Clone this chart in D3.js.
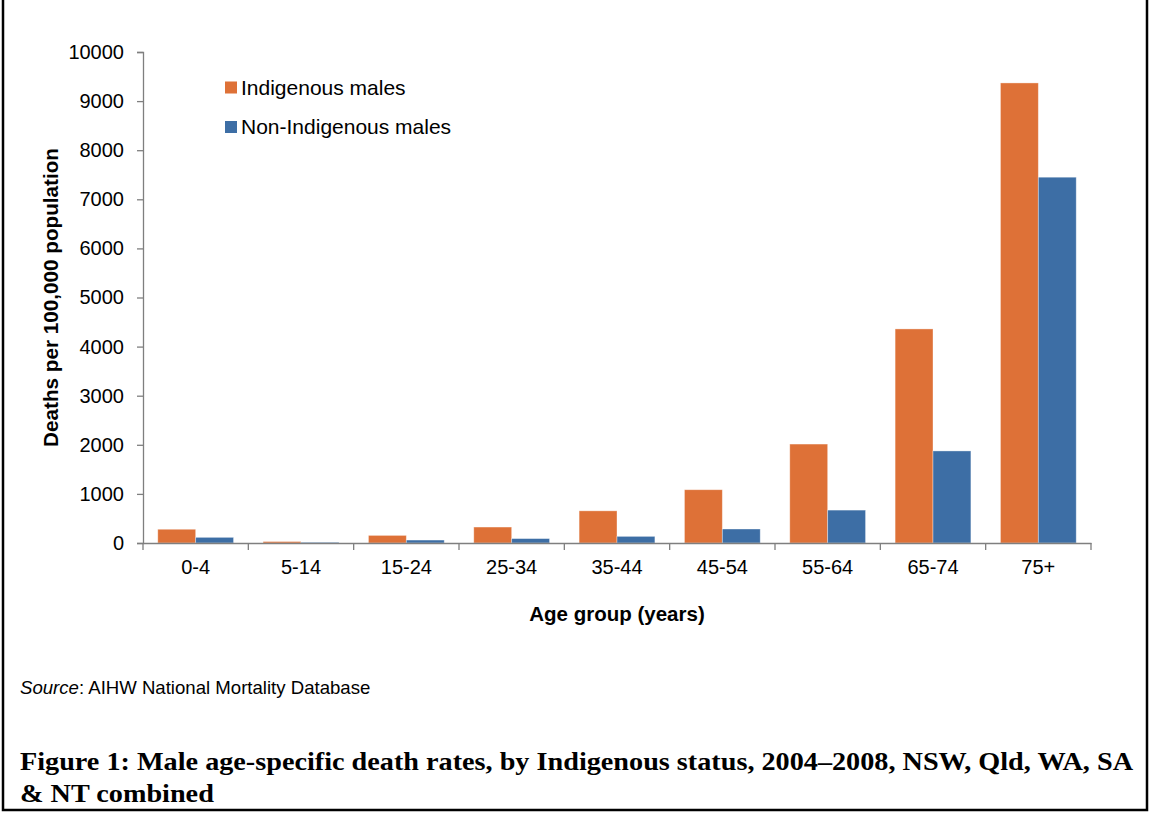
<!DOCTYPE html>
<html>
<head>
<meta charset="utf-8">
<script src="https://cdn.jsdelivr.net/npm/d3@7"></script>
<style>
  html, body { margin: 0; padding: 0; background: #fff; }
  svg { display: block; }
  text { font-family: "Liberation Sans", Arial, sans-serif; fill: #000; }
</style>
</head>
<body>
<svg id="chart" width="1150" height="813"></svg>
<script>
// Age groups and death rates per 100,000 males
const ageGroups = ["0-4", "5-14", "15-24", "25-34", "35-44", "45-54", "55-64", "65-74", "75+"];
const seriesNames = ["Indigenous males", "Non-Indigenous males"];
const indigenous = [280, 30, 155, 325, 655, 1085, 2015, 4360, 9370];
const nonIndigenous = [115, 15, 60, 90, 135, 285, 670, 1875, 7450];
const yTicks = [0, 1000, 2000, 3000, 4000, 5000, 6000, 7000, 8000, 9000, 10000];
const seriesColors = ["#DE7137", "#3D6EA5"];

const svg = d3.select("#chart");
svg.append("rect").attr("width", 1150).attr("height", 813).attr("fill", "#fff");

// Frame around the figure (open at the top)
svg.append("path")
  .attr("d", "M3,0 V810 H1147 V0")
  .attr("fill", "none")
  .attr("stroke", "#000")
  .attr("stroke-width", 2.5);

const plot = { left: 143, right: 1091, top: 52, bottom: 543 };

const x = d3.scaleBand().domain(ageGroups).range([plot.left, plot.right]).padding(0);
const xs = d3.scaleBand().domain(seriesNames).range([0, x.bandwidth()])
  .paddingInner(0).paddingOuter(0.39);
const y = d3.scaleLinear().domain([0, 10000]).range([plot.bottom, plot.top]);

const rows = ageGroups.map((g, i) => ({ group: g, values: [indigenous[i], nonIndigenous[i]] }));

// Bars
const groups = svg.append("g").selectAll("g")
  .data(rows).join("g")
  .attr("transform", d => `translate(${x(d.group)},0)`);

groups.selectAll("rect")
  .data(d => d.values.map((v, k) => ({ name: seriesNames[k], value: v, k })))
  .join("rect")
  .attr("x", d => xs(d.name))
  .attr("y", d => y(d.value))
  .attr("width", xs.bandwidth())
  .attr("height", d => y(0) - y(d.value))
  .attr("fill", d => seriesColors[d.k])
  .attr("stroke", "rgba(255,255,255,0.45)")
  .attr("stroke-width", 0.8);

const axisColor = "#7f7f7f";

// Y axis
const yAxis = svg.append("g")
  .attr("transform", `translate(${plot.left},0)`)
  .call(d3.axisLeft(y).tickValues(yTicks).tickFormat(d3.format("d")).tickSize(6).tickPadding(13));
yAxis.select(".domain").attr("stroke", axisColor).attr("stroke-width", 1.3);
yAxis.selectAll(".tick line").attr("stroke", axisColor).attr("stroke-width", 1.3);
yAxis.selectAll(".tick text")
  .attr("font-size", "20px")
  .attr("font-family", "'Liberation Sans', Arial, sans-serif")
  .attr("fill", "#000");

// X axis: labels centred in each band, ticks on the band boundaries
const xAxis = svg.append("g")
  .attr("transform", `translate(0,${plot.bottom})`)
  .call(d3.axisBottom(x).tickSize(0).tickPadding(17).tickSizeOuter(0));
xAxis.select(".domain").attr("stroke", axisColor).attr("stroke-width", 1.3);
xAxis.selectAll(".tick text")
  .attr("font-size", "20px")
  .attr("font-family", "'Liberation Sans', Arial, sans-serif")
  .attr("fill", "#000");

const boundaries = ageGroups.map(g => x(g)).concat([x(ageGroups[ageGroups.length - 1]) + x.bandwidth()]);
xAxis.selectAll("line.bound")
  .data(boundaries).join("line")
  .attr("class", "bound")
  .attr("x1", d => d).attr("x2", d => d)
  .attr("y1", 0).attr("y2", 7)
  .attr("stroke", axisColor).attr("stroke-width", 1.3);

// Axis titles
svg.append("text")
  .attr("x", (plot.left + plot.right) / 2)
  .attr("y", 621)
  .attr("text-anchor", "middle")
  .attr("font-size", "20.5px")
  .attr("font-weight", "bold")
  .text("Age group (years)");

svg.append("text")
  .attr("transform", `translate(58,${(plot.top + plot.bottom) / 2}) rotate(-90)`)
  .attr("text-anchor", "middle")
  .attr("font-size", "20.7px")
  .attr("font-weight", "bold")
  .text("Deaths per 100,000 population");

// Legend
const legend = svg.append("g");
seriesNames.forEach((name, k) => {
  const cy = 87.5 + k * 39.5;
  legend.append("rect")
    .attr("x", 225).attr("y", cy - 6)
    .attr("width", 12).attr("height", 12)
    .attr("fill", seriesColors[k]);
  legend.append("text")
    .attr("x", 241).attr("y", cy + 7)
    .attr("font-size", "21px")
    .text(name);
});

// Source note
const src = svg.append("text")
  .attr("x", 20).attr("y", 694)
  .attr("font-size", "18.6px");
src.append("tspan").attr("font-style", "italic").text("Source");
src.append("tspan").text(": AIHW National Mortality Database");

// Figure caption
const cap = svg.append("g")
  .attr("font-family", "'Palatino Linotype', 'Book Antiqua', 'Liberation Serif', serif")
  .attr("font-weight", "bold")
  .attr("font-size", "25px");
const line1 = cap.append("text").attr("x", 20).attr("y", 770)
  .style("font-family", "inherit")
  .text("Figure 1: Male age-specific death rates, by Indigenous status, 2004\u20132008, NSW, Qld, WA, SA");
const line2 = cap.append("text").attr("x", 20).attr("y", 802)
  .style("font-family", "inherit")
  .text("& NT combined");
const natural = line1.node().getComputedTextLength();
const ratio = 1113 / natural;
line1.attr("textLength", 1113).attr("lengthAdjust", "spacingAndGlyphs");
line2.attr("textLength", line2.node().getComputedTextLength() * ratio).attr("lengthAdjust", "spacingAndGlyphs");
</script>
</body>
</html>
